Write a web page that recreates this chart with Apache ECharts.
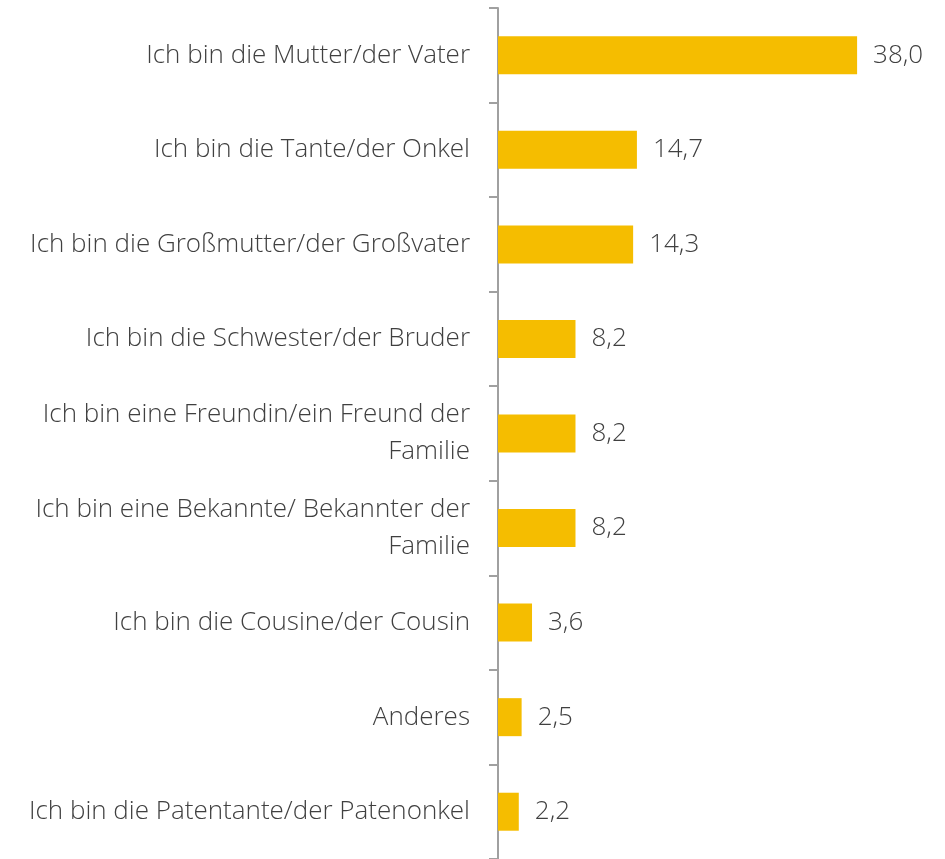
<!DOCTYPE html>
<html>
<head>
<meta charset="utf-8">
<script src="https://cdn.jsdelivr.net/npm/echarts@6/dist/echarts.min.js"></script>
<style>
  html, body { margin: 0; padding: 0; background: #fff; }
  #chart { width: 945px; height: 859px; }
</style>
</head>
<body>
<div id="chart"></div>
<script>
// Kategorien (von oben nach unten)
var categories = [
  'Ich bin die Mutter/der Vater',
  'Ich bin die Tante/der Onkel',
  'Ich bin die Großmutter/der Großvater',
  'Ich bin die Schwester/der Bruder',
  'Ich bin eine Freundin/ein Freund der\nFamilie',
  'Ich bin eine Bekannte/ Bekannter der\nFamilie',
  'Ich bin die Cousine/der Cousin',
  'Anderes',
  'Ich bin die Patentante/der Patenonkel'
]
// Anteile in Prozent
var values = [38.0, 14.7, 14.3, 8.2, 8.2, 8.2, 3.6, 2.5, 2.2]

var textColor = '#404040'
var fontFamily = '"Open Sans", sans-serif'

var myChart = echarts.init(document.getElementById('chart'))
myChart.setOption({
  animation: false,
  grid: {
    left: 498,
    right: 69,
    top: 8,
    bottom: -3
  },
  xAxis: {
    type: 'value',
    min: 0,
    max: 40,
    show: false
  },
  yAxis: {
    type: 'category',
    inverse: true,
    data: categories,
    axisLine: { show: true, lineStyle: { color: '#a0a0a0', width: 2 } },
    axisTick: { show: true, length: 9, lineStyle: { color: '#a0a0a0', width: 2 } },
    axisLabel: {
      margin: 28,
      color: textColor,
      fontFamily: fontFamily,
      fontWeight: 300,
      fontSize: 26,
      lineHeight: 37,
      align: 'right'
    },
    splitLine: { show: false }
  },
  series: [
    {
      type: 'bar',
      data: values,
      barWidth: 38,
      itemStyle: { color: '#F5BD00' },
      label: {
        show: true,
        position: 'right',
        distance: 16,
        color: textColor,
        fontFamily: fontFamily,
        fontWeight: 300,
        fontSize: 26,
        formatter: function (p) {
          return p.value.toFixed(1).replace('.', ',')
        }
      }
    }
  ]
})
</script>
</body>
</html>
